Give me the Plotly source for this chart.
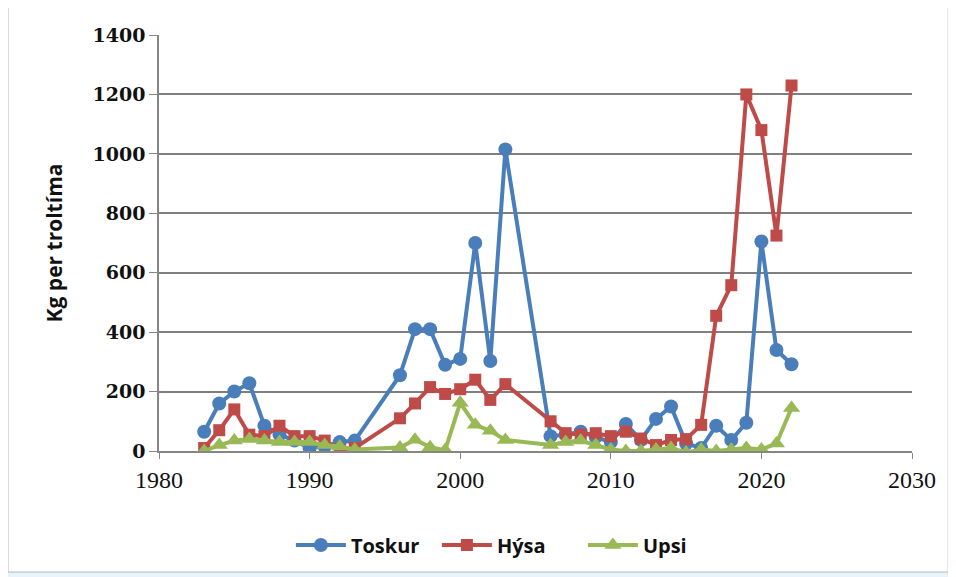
import plotly.graph_objects as go

years = [1983, 1984, 1985, 1986, 1987, 1988, 1989, 1990, 1991, 1992, 1993,
         1996, 1997, 1998, 1999, 2000, 2001, 2002, 2003,
         2006, 2007, 2008, 2009, 2010, 2011, 2012, 2013, 2014, 2015, 2016,
         2017, 2018, 2019, 2020, 2021, 2022]

toskur = [65, 160, 200, 228, 85, 55, 35, 10, 15, 30, 35,
          255, 410, 410, 290, 310, 700, 303, 1015,
          50, 55, 65, 47, 30, 91, 37, 108, 150, 25, 10,
          85, 37, 95, 705, 340, 292]

hysa = [10, 70, 140, 55, 50, 85, 50, 50, 35, 5, 10,
        110, 160, 215, 192, 208, 240, 172, 225,
        100, 60, 55, 60, 50, 65, 42, 20, 37, 40, 88,
        455, 558, 1200, 1080, 725, 1230]

upsi = [0, 20, 35, 40, 35, 30, 30, 30, 20, 15, 5,
        12, 38, 13, 3, 162, 88, 68, 37,
        20, 30, 35, 20, 5, 0, 0, 5, 10, -5, 5,
        0, 5, 10, 5, 25, 145]

series_names = ["Toskur", "Hýsa", "Upsi"]
y_ticks = [0, 200, 400, 600, 800, 1000, 1200, 1400]
x_ticks = [1980, 1990, 2000, 2010, 2020, 2030]

fig = go.Figure()
fig.add_trace(go.Scatter(x=years, y=toskur, name=series_names[0], mode="lines+markers",
                         line=dict(color="#4a7ebb", width=4),
                         marker=dict(symbol="circle", size=14, color="#4a7ebb")))
fig.add_trace(go.Scatter(x=years, y=hysa, name=series_names[1], mode="lines+markers",
                         line=dict(color="#be4b48", width=4),
                         marker=dict(symbol="square", size=12, color="#be4b48")))
fig.add_trace(go.Scatter(x=years, y=upsi, name=series_names[2], mode="lines+markers",
                         line=dict(color="#98b954", width=4),
                         marker=dict(symbol="triangle-up", size=15, color="#98b954")))

fig.add_shape(type="rect", xref="paper", yref="paper",
              x0=-0.2005, x1=1.048, y0=-0.291, y1=1.072,
              fillcolor="white", line=dict(color="#b8b8b8", width=1), layer="below")

fig.update_layout(
    width=948, height=569,
    margin=dict(l=151, r=44, t=27, b=126),
    paper_bgcolor="#e8f3fb",
    plot_bgcolor="rgba(0,0,0,0)",
    showlegend=True,
    legend=dict(orientation="h", x=0.466, xanchor="center", y=-0.226, yanchor="middle",
                font=dict(family="Open Sans", size=20, color="#111111", weight="bold"),
                itemwidth=50, entrywidth=81, entrywidthmode="pixels",
                bgcolor="rgba(0,0,0,0)"),
    xaxis=dict(range=[1980, 2030], tickvals=x_ticks, showgrid=False, zeroline=False,
               showline=True, linecolor="#868686", linewidth=1.5,
               ticks="outside", ticklen=6, tickcolor="#868686",
               tickfont=dict(family="Liberation Serif", size=24, color="#111111")),
    yaxis=dict(range=[0, 1400], tickvals=y_ticks, showgrid=True, gridcolor="#7f7f7f",
               gridwidth=1.5, zeroline=False, showline=True, linecolor="#868686",
               linewidth=1.5, ticks="outside", ticklen=8, tickcolor="#868686",
               tickfont=dict(family="DejaVu Serif", size=19, color="#111111", weight="bold"),
               title=dict(text="Kg per troltíma", standoff=24,
                          font=dict(family="Open Sans", size=21, color="#111111", weight="bold"))),
)

fig.write_html("out.html")
